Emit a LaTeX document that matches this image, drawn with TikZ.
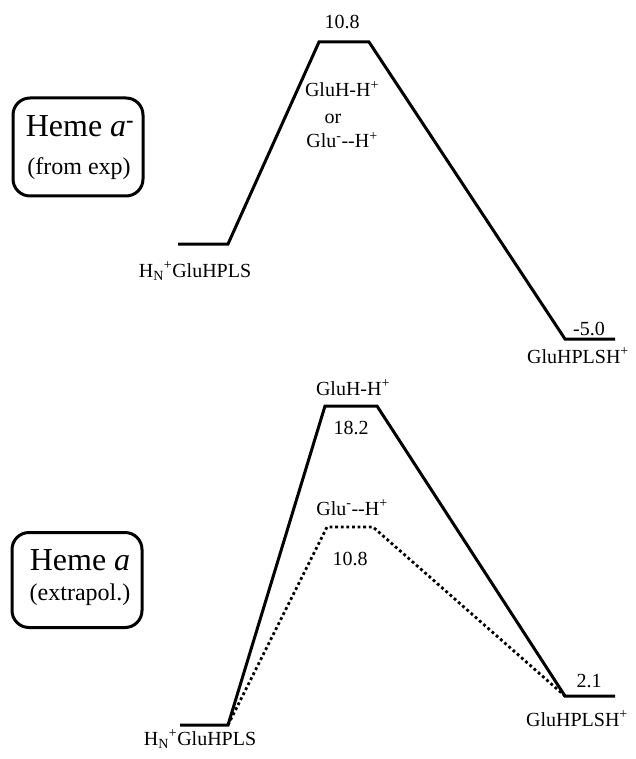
\documentclass[tikz,border=0pt]{standalone}
\usepackage{fontspec}
\setmainfont{Liberation Serif}
\begin{document}
\begin{tikzpicture}[x=1pt,y=-1pt,
  prof/.style={line width=3pt, line join=miter, line cap=butt},
  dotprof/.style={line width=2.8pt, dash pattern=on 2.8pt off 2.8pt},
  lbl/.style={font=\fontsize{20}{24}\selectfont, inner sep=0pt, anchor=base},
  bigtxt/.style={font=\fontsize{32}{36}\selectfont, inner sep=0pt, anchor=base},
  midtxt/.style={font=\fontsize{24}{28}\selectfont, inner sep=0pt, anchor=base},
  hbox/.style={draw, line width=3pt, rounded corners=17pt, inner sep=0pt}]
\useasboundingbox (0,0) rectangle (636,759);

% ---------- top diagram ----------
\coordinate (A1) at (178,244);
\coordinate (A2) at (228,244);
\coordinate (A3) at (319,42);
\coordinate (A4) at (369,42);
\coordinate (A5) at (565,339);
\coordinate (A6) at (615,339);
\draw[prof] (A1) -- (A2) -- (A3) -- (A4) -- (A5) -- (A6);

\node[lbl] (tTS) at (342,29) {10.8};
\node[lbl] (tGluH) at (342,97) {GluH-H\textsuperscript{+}};
\node[lbl] (tor) at (333,124) {or};
\node[lbl] (tGlu) at (342,148) {Glu\textsuperscript{-}-{}-H\textsuperscript{+}};
\node[lbl] (tL) at (195,277) {H\textsubscript{N}\textsuperscript{+}GluHPLS};
\node[lbl] (tRv) at (589,335) {-5.0};
\node[lbl] (tR) at (578,363) {GluHPLSH\textsuperscript{+}};

\node[hbox, minimum width=130pt, minimum height=98pt] (boxT) at (78,147) {};
\node[bigtxt] (hT) at (80,137) {Heme \textit{a}\textsuperscript{\textbf{-}}};
\node[midtxt] (sT) at (79,175) {(from exp)};

% ---------- bottom diagram ----------
\coordinate (B1) at (180,725);
\coordinate (B2) at (228,725);
\coordinate (B3) at (325,406);
\coordinate (B4) at (377,406);
\coordinate (B5) at (565,696);
\coordinate (B6) at (615,696);
\coordinate (C3) at (327,527);
\coordinate (C4) at (373,527);
\draw[prof] (B1) -- (B2) -- (B3) -- (B4) -- (B5) -- (B6);
\draw[dotprof] (B2) -- (C3) -- (C4) -- (B5);

\node[lbl] (bGluH) at (353,395) {GluH-H\textsuperscript{+}};
\node[lbl] (bTS1) at (351,434) {18.2};
\node[lbl] (bGlu) at (352,515) {Glu\textsuperscript{-}-{}-H\textsuperscript{+}};
\node[lbl] (bTS2) at (350,565) {10.8};
\node[lbl] (bL) at (200,745) {H\textsubscript{N}\textsuperscript{+}GluHPLS};
\node[lbl] (bRv) at (589,687) {2.1};
\node[lbl] (bR) at (577,726) {GluHPLSH\textsuperscript{+}};

\node[hbox, minimum width=130pt, minimum height=95pt] (boxB) at (77,580) {};
\node[bigtxt] (hB) at (80,570) {Heme \textit{a}};
\node[midtxt] (sB) at (80,600) {(extrapol.)};
\end{tikzpicture}
\end{document}
